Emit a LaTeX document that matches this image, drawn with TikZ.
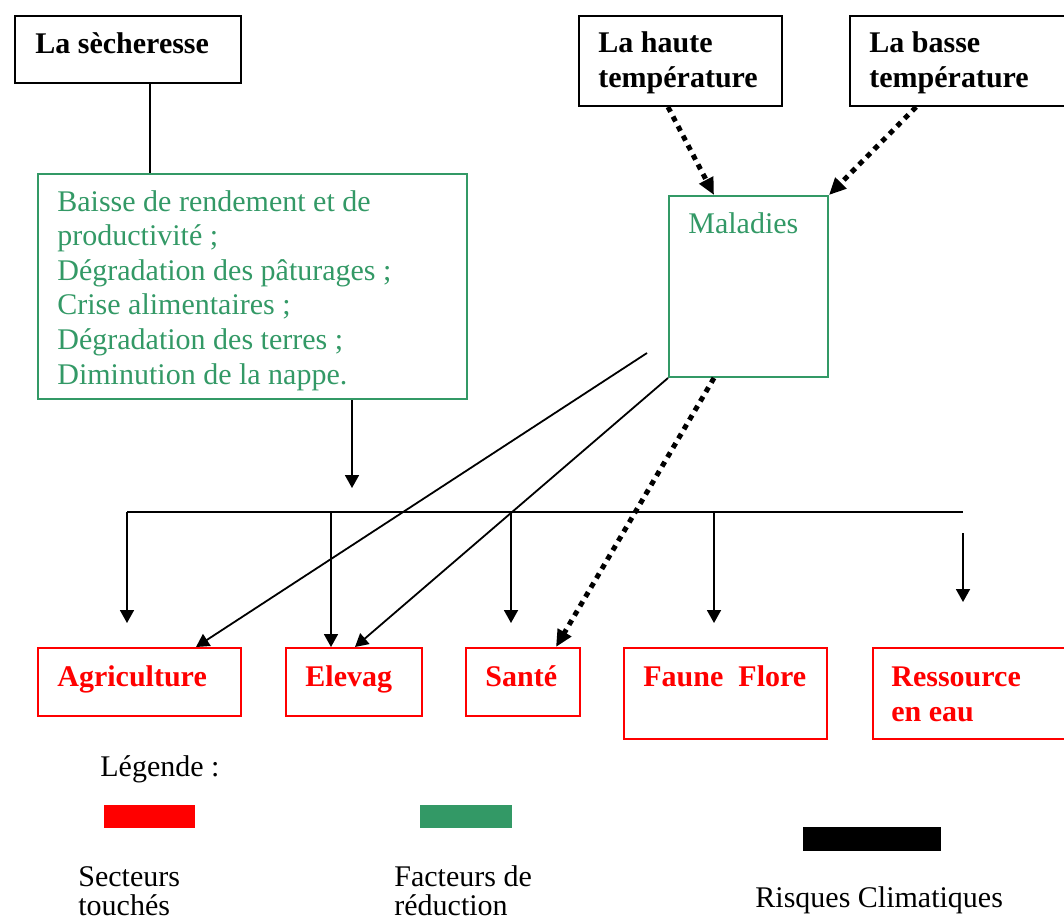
\documentclass[tikz,border=0pt]{standalone}
\usepackage{fontspec}
\setmainfont{Liberation Serif}
\usetikzlibrary{arrows.meta,calc}
\definecolor{grn}{HTML}{339966}
\definecolor{rd}{HTML}{FF0000}
\newcommand\mysz{\fontsize{15}{17.3}\selectfont}
\begin{document}
\begin{tikzpicture}[x=0.5pt,y=-0.5pt,
  box/.style={anchor=north west, inner sep=0pt, line width=1pt},
  kbox/.style={box, draw=black},
  gbox/.style={box, draw=grn},
  rbox/.style={box, draw=rd},
  ktxt/.style={anchor=base west, inner sep=0pt, font=\mysz\bfseries, align=left},
  gtxt/.style={anchor=base west, inner sep=0pt, font=\mysz, text=grn, align=left},
  rtxt/.style={anchor=base west, inner sep=0pt, font=\mysz\bfseries, text=rd, align=left},
  ltxt/.style={anchor=base west, inner sep=0pt, font=\mysz, align=left},
  conn/.style={line width=0.9pt},
  arr/.style={conn, -{Triangle[length=6.5pt,width=7pt]}},
  dotarr/.style={line width=2.5pt, dash pattern=on 2.7pt off 2.7pt, -{Triangle[length=8.5pt,width=7.5pt]}}
]
\useasboundingbox (0,0) rectangle (1064,923);

% top boxes
\node[kbox, minimum width=113pt, minimum height=33.5pt] (sech) at (14,15) {};
\node[ktxt] (sechT) at (35,53) {La sècheresse};
\node[kbox, minimum width=101.5pt, minimum height=45pt] (haute) at (578,15) {};
\node[ktxt] (hauteT) at (598,87) {La haute\\température};
\node[kbox, minimum width=108.5pt, minimum height=45pt] (basse) at (849,15) {};
\node[ktxt] (basseT) at (869,87) {La basse\\température};

% green boxes
\node[gbox, minimum width=214.5pt, minimum height=112.5pt] (eff) at (37,173) {};
\node[gtxt] (effT) at (57,384) {Baisse de rendement et de\\productivité ;\\Dégradation des pâturages ;\\Crise alimentaires ;\\Dégradation des terres ;\\Diminution de la nappe.};
\node[gbox, minimum width=79.5pt, minimum height=90.5pt] (mal) at (668,195) {};
\node[gtxt] (malT) at (688,233) {Maladies};

% sector boxes
\node[rbox, minimum width=101.5pt, minimum height=34pt] (agri) at (37,647) {};
\node[rtxt] at (57,686) {Agriculture};
\node[rbox, minimum width=68pt, minimum height=34pt] (elev) at (285,647) {};
\node[rtxt] at (305,686) {Elevag};
\node[rbox, minimum width=57pt, minimum height=34pt] (sante) at (465,647) {};
\node[rtxt] at (485,686) {Santé};
\node[rbox, minimum width=101.5pt, minimum height=45.5pt] (faune) at (623,647) {};
\node[rtxt] at (643,686) {Faune\ \ Flore};
\node[rbox, minimum width=98pt, minimum height=45.5pt] (ress) at (872,647) {};
\node[rtxt] at (891,721) {Ressource\\en eau};

% connectors
\draw[conn] (150,0 |- sech.south) -- (150,0 |- eff.north);
\coordinate (e1) at (352,488);
\draw[arr] (352,0 |- eff.south) -- (e1);
\coordinate (b1) at (127,512);
\coordinate (b2) at (963,512);
\draw[conn] (b1) -- (b2);
\coordinate (t1) at (127,623);
\coordinate (t3) at (511,623);
\coordinate (t4) at (714,623);
\draw[arr] (b1) -- (t1);
\draw[arr] (331,512) -- (331,0 |- elev.north);
\draw[arr] (511,512) -- (t3);
\draw[arr] (714,512) -- (t4);
\coordinate (r1) at (963,533);
\coordinate (r2) at (963,602);
\draw[arr] (r1) -- (r2);
\coordinate (m0) at (647,353);
\draw[arr] (m0) -- (196,0 |- agri.north);
\draw[arr] (mal.south west) -- (355,0 |- elev.north);
\draw[dotarr] (714,0 |- mal.south) -- (556,0 |- sante.north);
\draw[dotarr] (668,0 |- haute.south) -- (714,0 |- mal.north);
\draw[dotarr] (916,0 |- basse.south) -- (mal.north east);

% legend
\node[ltxt] (leg) at (100,776) {Légende :};
\fill[rd] (104,805) rectangle (195,828);
\fill[grn] (420,805) rectangle (512,828);
\fill[black] (803,827) rectangle (941,851);
\node[ltxt] (l1) at (78,915) {Secteurs\\[-3pt]touchés};
\node[ltxt] (l2) at (394,915) {Facteurs de\\[-3pt]réduction};
\node[ltxt] (l3) at (755,907) {Risques Climatiques};
\end{tikzpicture}
\end{document}
